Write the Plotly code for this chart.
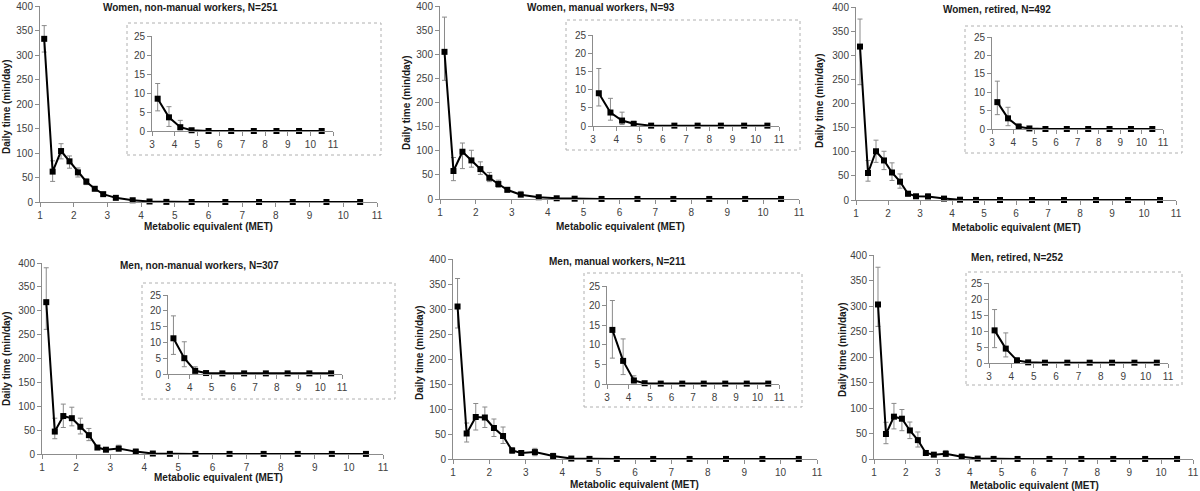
import plotly.graph_objects as go

W, H = 1200, 491

met = [1.125, 1.375, 1.625, 1.875, 2.125, 2.375, 2.625, 2.875, 3.25, 3.75,
       4.25, 4.75, 5.5, 6.5, 7.5, 8.5, 9.5, 10.5]
INSET_START = 8  # inset shows MET >= 3.25

titles = ["Women, non-manual workers, N=251", "Women, manual workers, N=93",
          "Women, retired, N=492", "Men, non-manual workers, N=307",
          "Men, manual workers, N=211", "Men, retired, N=252"]

w_nonmanual = [333, 62, 104, 83, 60.5, 41.5, 27, 16, 8.5, 3.6, 1.0, 0.2, 0, 0, 0, 0, 0, 0]
w_nonmanual_up = [27, 22, 15, 11, 9, 6, 4, 3, 4.0, 2.8, 1.8, 0.3, 0, 0, 0, 0, 0, 0]
w_nonmanual_dn = [27, 20, 16, 14, 9.5, 6, 4, 3, 3.2, 2.4, 0.7, 0.2, 0, 0, 0, 0, 0, 0]

w_manual = [305, 58, 98, 80, 62, 44, 31, 19, 9.0, 3.7, 1.5, 0.6, 0.1, 0.1, 0.1, 0.1, 0.1, 0.1]
w_manual_up = [72, 28, 18, 21, 15, 11, 8, 5, 6.8, 3.9, 2.3, 0.7, 0, 0, 0, 0, 0, 0]
w_manual_dn = [59, 20, 35, 14, 11, 8, 7, 4, 3.5, 2.1, 1.1, 0.4, 0, 0, 0, 0, 0, 0]

w_retired = [318, 56, 101, 82, 57, 38, 13, 7.7, 7.3, 2.9, 0.6, 0.15, 0, 0, 0, 0, 0, 0]
w_retired_up = [57, 26, 23, 19, 20, 16, 5, 3, 5.7, 3.0, 0.9, 0.2, 0, 0, 0, 0, 0, 0]
w_retired_dn = [79, 17, 23, 19, 16.5, 13.5, 5, 3, 3.4, 2.0, 0.4, 0.1, 0, 0, 0, 0, 0, 0]

m_nonmanual = [318, 47, 79.5, 75, 57, 39.5, 13.5, 9, 11.3, 5.0, 1.0, 0.3, 0.2, 0.2, 0.2, 0.2, 0.2, 0.2]
m_nonmanual_up = [72, 28, 25, 23, 18, 14, 4, 3, 7.1, 5.2, 1.3, 0.3, 0, 0, 0, 0, 0, 0]
m_nonmanual_dn = [57, 15, 24, 16, 15, 11.5, 4, 3, 5.1, 2.7, 0.7, 0.2, 0, 0, 0, 0, 0, 0]

m_manual = [305, 51, 84, 83, 62, 46, 17, 12, 13.8, 5.9, 0.9, 0.2, 0.1, 0.1, 0.1, 0.1, 0.1, 0.1]
m_manual_up = [56, 21, 27, 21, 18, 18, 6, 4, 7.5, 5.6, 1.2, 0.2, 0, 0, 0, 0, 0, 0]
m_manual_dn = [43, 17, 26, 20, 17, 15, 6, 4, 7.2, 3.5, 0.6, 0.1, 0, 0, 0, 0, 0, 0]

m_retired = [303, 49, 83, 79, 56, 37, 11.8, 8.5, 10.2, 4.5, 0.8, 0.2, 0.1, 0.1, 0.1, 0.1, 0.1, 0.1]
m_retired_up = [73, 23, 26, 18, 16.5, 16, 5, 3, 6.5, 4.9, 0.9, 0.2, 0, 0, 0, 0, 0, 0]
m_retired_dn = [43, 19, 24, 23.5, 16, 13.5, 5, 3, 5.4, 2.6, 0.5, 0.1, 0, 0, 0, 0, 0, 0]

series = [(w_nonmanual, w_nonmanual_up, w_nonmanual_dn),
          (w_manual, w_manual_up, w_manual_dn),
          (w_retired, w_retired_up, w_retired_dn),
          (m_nonmanual, m_nonmanual_up, m_nonmanual_dn),
          (m_manual, m_manual_up, m_manual_dn),
          (m_retired, m_retired_up, m_retired_dn)]

x_title = "Metabolic equivalent (MET)"
y_title = "Daily time (min/day)"

# layout geometry in pixels
main_px = [  # x0, x1, ytop, ybottom
    (40, 377, 6, 202), (440, 799, 6, 199), (856, 1176, 7, 200),
    (42, 383, 263, 454), (453, 817, 259, 459), (874, 1193, 255, 459)]
inset_px = [
    (152, 333, 36, 131), (593, 779, 35, 126), (992, 1163, 37, 129),
    (168, 342, 295, 374), (607, 779, 286, 384), (989, 1168, 283, 363)]
box_px = [
    (127, 381, 23, 155), (566, 800, 20, 150), (965, 1182, 26, 153),
    (142, 395, 283, 399), (584, 802, 273, 407), (966, 1182, 272, 385)]
title_px = [(190, 7), (601, 7), (997, 10), (199, 265), (617, 261), (1017, 257)]
ytitle_px = [(6, 107), (406, 103), (819, 101), (6, 359), (419, 353), (842, 350)]
xtitle_px = [(208, 226), (620, 226), (1016, 227), (218, 477), (634, 484), (1034, 485)]

FONT = "Liberation Sans, Arial, sans-serif"
AX_COL = "#8c8c8c"
TXT_COL = "#404040"

def px(x): return x / W
def py(y): return 1 - y / H

fig = go.Figure()
layout = dict(width=W, height=H, margin=dict(l=0, r=0, t=0, b=0, autoexpand=False),
              paper_bgcolor="white", plot_bgcolor="rgba(0,0,0,0)",
              showlegend=False, font=dict(family=FONT, size=10, color=TXT_COL))
shapes, annotations = [], []

def axis_style(domain, rng, dtick, anchor):
    return dict(domain=domain, range=rng, dtick=dtick, tick0=rng[0], anchor=anchor,
                automargin=False,
                showgrid=False, zeroline=False, showline=True, linecolor=AX_COL,
                linewidth=1, ticks="outside", ticklen=4, tickcolor=AX_COL,
                tickfont=dict(family=FONT, size=10, color=TXT_COL), fixedrange=True)

for i in range(6):
    vals, up, dn = series[i]
    # inset box
    bx0, bx1, by0, by1 = box_px[i]
    shapes.append(dict(type="rect", xref="paper", yref="paper",
                       x0=px(bx0), x1=px(bx1), y0=py(by1), y1=py(by0),
                       line=dict(color="#b0b0b0", width=1, dash="dot"),
                       fillcolor="white", layer="below"))
    # main axes
    mi = 2 * i + 1
    ii = 2 * i + 2
    x0, x1, yt, yb = main_px[i]
    layout[f"xaxis{mi}"] = axis_style([px(x0), px(x1)], [1, 11], 1, f"y{mi}")
    layout[f"yaxis{mi}"] = axis_style([py(yb), py(yt)], [0, 400], 50, f"x{mi}")
    fig.add_trace(go.Scatter(
        x=met, y=vals, xaxis=f"x{mi}", yaxis=f"y{mi}", mode="lines+markers",
        line=dict(color="black", width=2),
        marker=dict(symbol="square", size=6, color="black"),
        error_y=dict(type="data", symmetric=False, array=up, arrayminus=dn,
                     color="#8a8a8a", thickness=1, width=2.5),
        cliponaxis=False))
    # inset axes
    x0, x1, yt, yb = inset_px[i]
    layout[f"xaxis{ii}"] = axis_style([px(x0), px(x1)], [3, 11], 1, f"y{ii}")
    layout[f"yaxis{ii}"] = axis_style([py(yb), py(yt)], [0, 25], 5, f"x{ii}")
    fig.add_trace(go.Scatter(
        x=met[INSET_START:], y=vals[INSET_START:], xaxis=f"x{ii}", yaxis=f"y{ii}",
        mode="lines+markers", line=dict(color="black", width=2),
        marker=dict(symbol="square", size=6, color="black"),
        error_y=dict(type="data", symmetric=False, array=up[INSET_START:],
                     arrayminus=dn[INSET_START:], color="#8a8a8a", thickness=1, width=2.5),
        cliponaxis=False))
    # titles
    tx, ty = title_px[i]
    annotations.append(dict(text=f"<b>{titles[i]}</b>", x=px(tx), y=py(ty),
                            xref="paper", yref="paper", showarrow=False,
                            xanchor="center", yanchor="middle",
                            font=dict(family=FONT, size=10, color="#1a1a1a")))
    ax_, ay_ = ytitle_px[i]
    annotations.append(dict(text=f"<b>{y_title}</b>", x=px(ax_), y=py(ay_),
                            xref="paper", yref="paper", showarrow=False, textangle=-90,
                            xanchor="center", yanchor="middle",
                            font=dict(family=FONT, size=10, color="#1a1a1a")))
    ax_, ay_ = xtitle_px[i]
    annotations.append(dict(text=f"<b>{x_title}</b>", x=px(ax_), y=py(ay_),
                            xref="paper", yref="paper", showarrow=False,
                            xanchor="center", yanchor="middle",
                            font=dict(family=FONT, size=10, color="#1a1a1a")))

layout["shapes"] = shapes
layout["annotations"] = annotations
fig.update_layout(**layout)
fig.write_html(
    "out.html",
    config={"displayModeBar": False},
    post_script="document.body.style.margin='0';document.body.style.overflow='hidden';")
